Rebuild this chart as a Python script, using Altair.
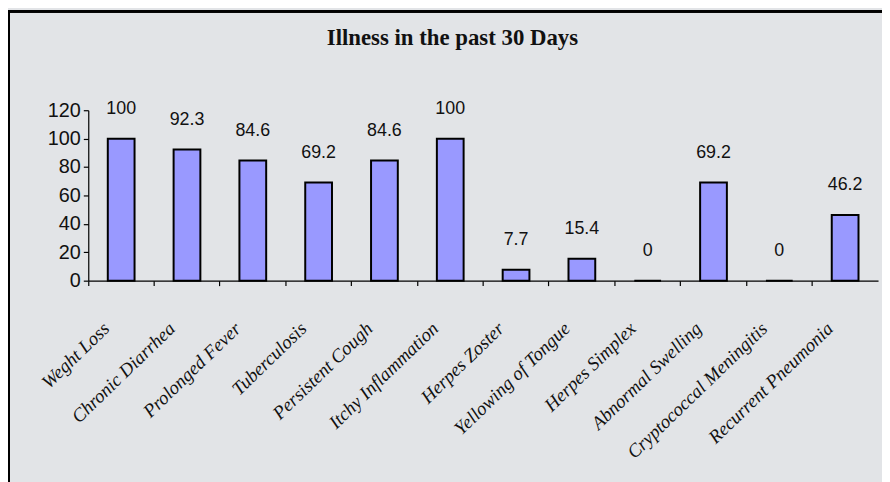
import altair as alt
import pandas as pd

categories = ["Weght Loss", "Chronic Diarrhea", "Prolonged Fever", "Tuberculosis",
              "Persistent Cough", "Itchy Inflammation", "Herpes Zoster",
              "Yellowing of Tongue", "Herpes Simplex", "Abnormal Swelling",
              "Cryptococcal Meningitis", "Recurrent Pneumonia"]
values = [100, 92.3, 84.6, 69.2, 84.6, 100, 7.7, 15.4, 0, 69.2, 0, 46.2]
labels = ["100", "92.3", "84.6", "69.2", "84.6", "100", "7.7", "15.4", "0", "69.2", "0", "46.2"]
y_ticks = [0, 20, 40, 60, 80, 100, 120]

df = pd.DataFrame({"cat": categories, "val": values, "lab": labels})

NUM_FONT = "Liberation Sans"
SERIF = "Liberation Serif"

x_enc = alt.X("cat:N", sort=categories, title=None,
              scale=alt.Scale(paddingInner=0, paddingOuter=0),
              axis=alt.Axis(bandPosition=0, labelAngle=-44, labelAlign="right",
                            labelBaseline="middle", labelPadding=40, labelOffset=-15,
                            labelLimit=0,
                            labelFont=SERIF, labelFontStyle="italic", labelFontSize=19,
                            labelColor="#111", tickColor="black", domainColor="black",
                            tickSize=5, domainWidth=1.2, tickWidth=1.2))

y_enc = alt.Y("val:Q", title=None,
              scale=alt.Scale(domain=[0, 120], nice=False),
              axis=alt.Axis(values=y_ticks, tickCount=7, grid=False, labelFont=NUM_FONT,
                            labelFontSize=20, labelColor="#111", tickColor="black",
                            domainColor="black", labelOverlap=False,
                            tickSize=5, labelPadding=3, domainWidth=1.2, tickWidth=1.2))

bars = alt.Chart(df).mark_bar(color="#9999FF", stroke="black", strokeWidth=2, size=27).encode(
    x=x_enc,
    y=y_enc,
)

text = alt.Chart(df).mark_text(font=NUM_FONT, fontSize=18, color="#111", dy=-30,
                               baseline="middle").encode(
    x=x_enc,
    y=y_enc,
    text="lab:N",
)

frame = alt.Chart(df).mark_rect(fill=None, stroke="black", strokeWidth=2, clip=False).encode(
    x=alt.value(-80), x2=alt.value(900), y=alt.value(-100), y2=alt.value(500)
)

chart = alt.layer(frame, bars, text).properties(
    width=797, height=172,
    title=alt.TitleParams("Illness in the past 30 Days", font=SERIF, fontSize=23,
                          fontWeight="bold", color="#111", anchor="middle", dx=-31, offset=-40),
    autosize=alt.AutoSizeParams(type="none"),
    padding={"left": 81, "top": 101, "right": 4, "bottom": 201},
    background="#e2e4e7",
).configure_view(stroke=None)

chart.save("out.html", embed_options={"renderer": "svg", "actions": False})
